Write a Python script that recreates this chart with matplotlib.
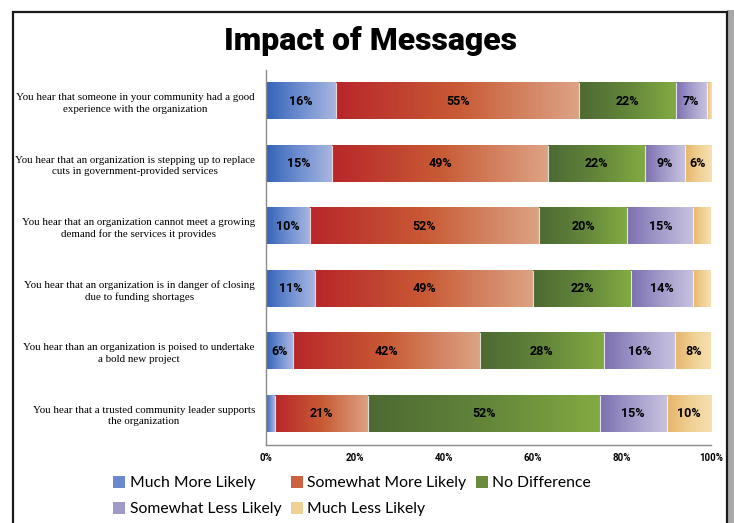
import matplotlib.pyplot as plt
import numpy as np
from matplotlib.colors import LinearSegmentedColormap
from matplotlib.patches import Rectangle, Patch

# survey statements, top to bottom
statements = [
    "You hear that someone in your community had a good\nexperience with the organization",
    "You hear that an organization is stepping up to replace\ncuts in government-provided services",
    "You hear that an organization cannot meet a growing\ndemand for the services it provides",
    "You hear that an organization is in danger of closing\ndue to funding shortages",
    "You hear than an organization is poised to undertake\na bold new project",
    "You hear that a trusted community leader supports\nthe organization",
]
series = ["Much More Likely", "Somewhat More Likely", "No Difference",
          "Somewhat Less Likely", "Much Less Likely"]

much_more = [16, 15, 10, 11, 6, 2]
somewhat_more = [55, 49, 52, 49, 42, 21]
no_diff = [22, 22, 20, 22, 28, 52]
somewhat_less = [7, 9, 15, 14, 16, 15]
much_less = [1, 6, 4, 4, 8, 10]

ticks = [0, 20, 40, 60, 80, 100]
tick_labels = ["0%", "20%", "40%", "60%", "80%", "100%"]

# left -> right shading for each series
gradients = [
    ["#3563b8", "#6f8fd0", "#a9b6e0"],
    ["#b8272a", "#c85a35", "#dca283"],
    ["#4d6a33", "#62853a", "#82aa42"],
    ["#7d70b0", "#a39ccb", "#c8c2df"],
    ["#e6b56c", "#f0cf92", "#f6e0b0"],
]
mid_colors = ["#6a88cc", "#cc6240", "#6a8a3c", "#a09ac8", "#efd096"]

values = np.array([much_more, somewhat_more, no_diff, somewhat_less, much_less], dtype=float)
shares = values / values.sum(axis=0) * 100  # 100% stacked

fig = plt.figure(figsize=(7.34, 5.23), dpi=100)

# page frame with a drop shadow on the right
fig.patches.append(Rectangle((727 / 734, -0.1), 7 / 734, 1.08, transform=fig.transFigure,
                             facecolor="#a8a8a8", edgecolor="none", zorder=-2))
fig.patches.append(Rectangle((12.5 / 734, -0.1), 714.5 / 734, 1.1 - 12.5 / 523,
                             transform=fig.transFigure, facecolor="white",
                             edgecolor="#1a1a1a", lw=1.6, zorder=-1))

fig.text(0.505, 0.921, "Impact of Messages", ha="center", va="center",
         fontsize=23, fontweight="black", family="Roboto")

ax = fig.add_axes([266 / 734, 1 - 445 / 523, 445 / 734, 375 / 523])
ax.set_facecolor("none")

y = np.arange(len(statements))
h = 0.58
left = np.zeros(len(statements))
for j in range(len(series)):
    cmap = LinearSegmentedColormap.from_list(series[j], gradients[j])
    grad = np.linspace(0, 1, 64).reshape(1, -1)
    bars = ax.barh(y, shares[j], height=h, left=left, color="none",
                   edgecolor="none", zorder=2)
    for i, b in enumerate(bars):
        x0 = left[i]
        w = shares[j][i]
        ax.imshow(grad, cmap=cmap, aspect="auto", interpolation="bicubic",
                  extent=[x0, x0 + w, y[i] + h / 2, y[i] - h / 2], zorder=1)
        ax.plot([x0 + w, x0 + w], [y[i] - h / 2, y[i] + h / 2], color="white",
                lw=0.8, alpha=0.8, zorder=3)
        if values[j][i] >= 5:
            ax.text(x0 + w / 2, y[i], f"{int(values[j][i])}%", ha="center", va="center",
                    fontsize=9, fontweight="bold", family="Roboto", zorder=4)
    left += shares[j]

ax.set_xlim(0, 100)
ax.set_ylim(len(statements) - 0.5, -0.5)
ax.set_xticks(ticks)
ax.set_xticklabels(tick_labels, fontsize=7, fontweight="bold", family="Roboto")
ax.set_yticks(y)
ax.set_yticklabels(statements, fontsize=7.9, family="Liberation Serif",
                   multialignment="center", linespacing=1.35)
ax.tick_params(length=0, pad=6)
ax.tick_params(axis="y", pad=8)
for s in ["top", "right"]:
    ax.spines[s].set_visible(False)
for s in ["left", "bottom"]:
    ax.spines[s].set_color("#8a8a8a")
    ax.spines[s].set_linewidth(1.0)

# legend laid out row by row
handles = [Patch(facecolor=c, edgecolor="none") for c in mid_colors]
order = [0, 3, 1, 4, 2]
fig.legend([handles[k] for k in order], [series[k] for k in order],
           loc="upper left", bbox_to_anchor=(107 / 734, 1 - 470 / 523), ncol=3,
           frameon=False, prop={"family": "Lato", "size": 11.3},
           handlelength=0.75, handleheight=0.75, handletextpad=0.3,
           columnspacing=0.6, labelspacing=0.75, borderaxespad=0)

fig.savefig("out.png", dpi=100)
